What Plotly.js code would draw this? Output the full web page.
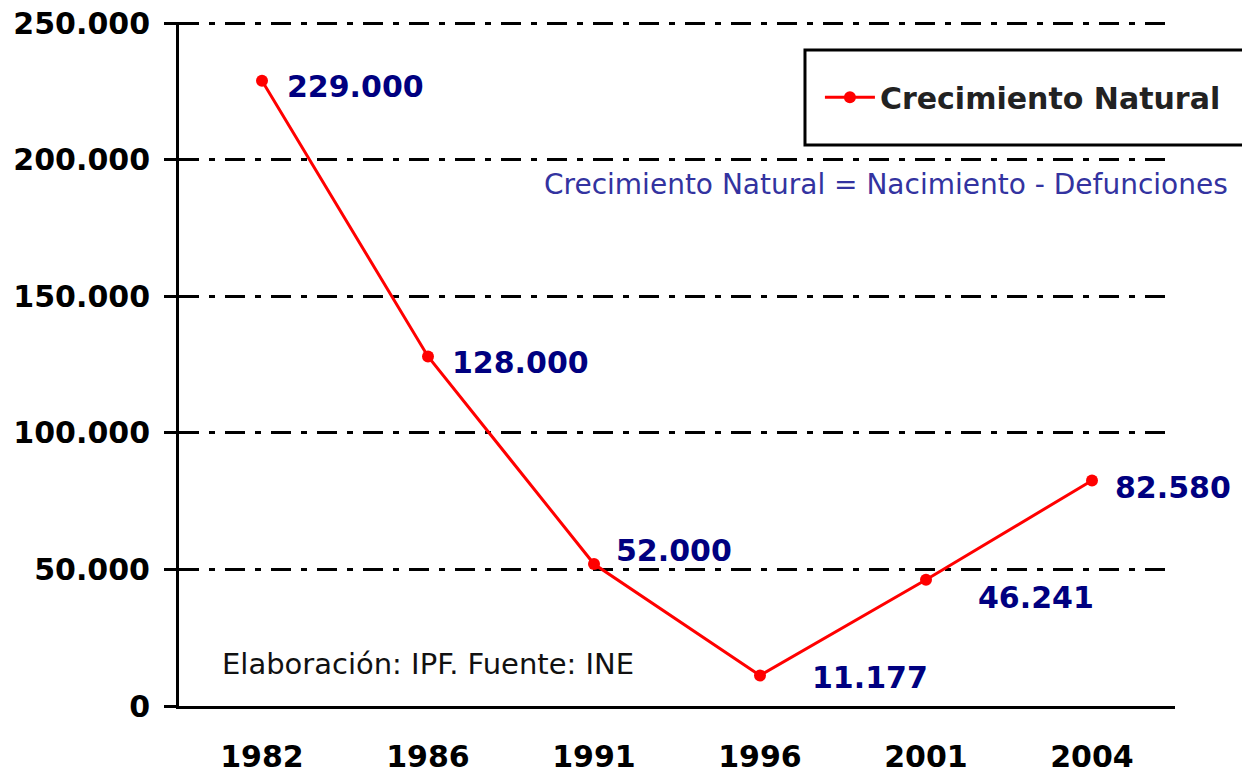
<!DOCTYPE html>
<html>
<head>
<meta charset="utf-8">
<script src="https://cdn.plot.ly/plotly-3.0.1.min.js"></script>
<style>
  html, body { margin: 0; padding: 0; background: #fff; }
  #chart { width: 1242px; height: 774px; }
</style>
</head>
<body>
<div id="chart"></div>
<script>
// data
const years = ['1982', '1986', '1991', '1996', '2001', '2004'];
const crecimiento = [229000, 128000, 52000, 11177, 46241, 82580];
const yTicks = [0, 50000, 100000, 150000, 200000, 250000];
const seriesName = 'Crecimiento Natural';
const formulaNote = 'Crecimiento Natural = Nacimiento - Defunciones';
const sourceNote = 'Elaboración: IPF. Fuente: INE';

// label offsets (px) per point: [xshift, yshift]
const labelOffsets = [[23, -6], [22, -6], [20, 14], [50, -2], [50, -18], [21, -7]];

const fmt = (v) => String(v).replace(/\B(?=(\d{3})+(?!\d))/g, '.');

const trace = {
  type: 'scatter',
  mode: 'lines+markers',
  name: seriesName,
  x: years,
  y: crecimiento,
  line: { color: '#ff0000', width: 3 },
  marker: { color: '#ff0000', size: 12, symbol: 'circle' }
};

// category axis: annotations placed by category index
const valueLabels = crecimiento.map((v, i) => ({
  x: i,
  y: v,
  xref: 'x',
  yref: 'y',
  text: fmt(v),
  showarrow: false,
  xanchor: 'left',
  yanchor: 'middle',
  xshift: labelOffsets[i][0],
  yshift: labelOffsets[i][1],
  font: { family: 'DejaVu Sans', size: 30, color: '#000080', weight: 'bold' }
}));

const layout = {
  width: 1242,
  height: 774,
  paper_bgcolor: '#ffffff',
  plot_bgcolor: '#ffffff',
  margin: { l: 179, r: 67, t: 22, b: 68 },
  font: { family: 'DejaVu Sans', color: '#000' },
  showlegend: true,
  legend: {
    x: 0.6435,
    y: 0.89,
    xanchor: 'left',
    yanchor: 'middle',
    bgcolor: 'rgba(0,0,0,0)',
    borderwidth: 0,
    itemwidth: 50,
    font: { family: 'DejaVu Sans', size: 30, color: '#222', weight: 'bold' }
  },
  xaxis: {
    type: 'category',
    range: [-0.5, 5.5],
    showline: true,
    linecolor: '#000',
    linewidth: 3,
    showgrid: false,
    ticks: '',
    ticklabelstandoff: 22,
    tickfont: { family: 'DejaVu Sans', size: 30, color: '#000', weight: 'bold' },
    fixedrange: true
  },
  yaxis: {
    range: [0, 250500],
    tickvals: yTicks,
    tickformat: ',.0f',
    showline: true,
    linecolor: '#000',
    linewidth: 3,
    ticks: 'outside',
    ticklen: 12,
    tickwidth: 3,
    tickcolor: '#000',
    ticklabelstandoff: 8,
    showgrid: true,
    gridcolor: '#000',
    gridwidth: 3,
    griddash: '20px,10px,6px,10px',
    zeroline: false,
    tickfont: { family: 'DejaVu Sans', size: 30, color: '#000', weight: 'bold' },
    fixedrange: true
  },
  separators: ',.',
  shapes: [
    {
      type: 'rect',
      xref: 'paper', yref: 'paper',
      x0: 0.6285, x1: 1.1,
      y0: 0.82, y1: 0.959,
      line: { color: '#000', width: 3 },
      fillcolor: '#fff',
      layer: 'above'
    }
  ],
  annotations: [
    ...valueLabels,
    {
      xref: 'paper', yref: 'paper',
      x: 1.055, y: 0.762,
      xanchor: 'right', yanchor: 'middle',
      text: formulaNote,
      showarrow: false,
      font: { family: 'DejaVu Sans', size: 28, color: '#3333a0' }
    },
    {
      xref: 'paper', yref: 'paper',
      x: 0.041, y: 0.061,
      xanchor: 'left', yanchor: 'middle',
      text: sourceNote,
      showarrow: false,
      font: { family: 'DejaVu Sans', size: 29, color: '#111' }
    }
  ]
};

Plotly.newPlot('chart', [trace], layout, { displayModeBar: false, staticPlot: true });
</script>
</body>
</html>
